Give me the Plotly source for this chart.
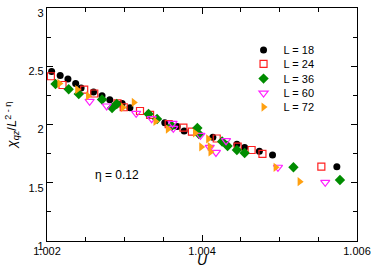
import plotly.graph_objects as go

# L = 18
u_18 = [1.00206, 1.00217, 1.00227, 1.00237, 1.00244, 1.00260, 1.00271, 1.00281, 1.00297, 1.00307,
        1.00352, 1.00368, 1.00377, 1.00414, 1.00445, 1.00455, 1.00474, 1.00491, 1.00574]
chi_18 = [2.455, 2.421, 2.391, 2.352, 2.313, 2.279, 2.247, 2.213, 2.180, 2.144,
          2.015, 1.983, 1.944, 1.890, 1.830, 1.803, 1.770, 1.738, 1.638]
# L = 24
u_24 = [1.00205, 1.00220, 1.00248, 1.00261, 1.00291, 1.00299, 1.00320, 1.00333, 1.00357, 1.00376,
        1.00387, 1.00419, 1.00446, 1.00464, 1.00478, 1.00554]
chi_24 = [2.414, 2.339, 2.300, 2.266, 2.182, 2.148, 2.116, 2.082, 2.004, 1.974,
          1.938, 1.880, 1.810, 1.781, 1.747, 1.638]
# L = 36
u_36 = [1.00211, 1.00228, 1.00241, 1.00271, 1.00284, 1.00290, 1.00331, 1.00342, 1.00361, 1.00394,
        1.00396, 1.00426, 1.00433, 1.00445, 1.00455, 1.00518, 1.00578]
chi_36 = [2.348, 2.302, 2.262, 2.215, 2.142, 2.176, 2.090, 2.047, 1.987, 1.970,
          1.918, 1.854, 1.815, 1.781, 1.755, 1.633, 1.524]
# L = 60
u_60 = [1.00255, 1.00277, 1.00315, 1.00335, 1.00362, 1.00363, 1.00398, 1.00410, 1.00418, 1.00431,
        1.00498, 1.00559]
chi_60 = [2.199, 2.159, 2.096, 2.050, 2.009, 1.967, 1.907, 1.803, 1.760, 1.861,
          1.633, 1.504]
# L = 72
u_72 = [1.00216, 1.00239, 1.00253, 1.00298, 1.00312, 1.00340, 1.00356, 1.00391, 1.00399, 1.00408,
        1.00410, 1.00411, 1.00495, 1.00526]
chi_72 = [2.352, 2.300, 2.245, 2.146, 2.189, 2.026, 1.961, 1.927, 1.807, 1.876,
          1.811, 1.764, 1.633, 1.509]

x_ticks = [1.002, 1.004, 1.006]
y_ticks = [1, 1.5, 2, 2.5, 3]

series = [
    ("L = 18", u_18, chi_18, dict(symbol="circle", size=7, color="black")),
    ("L = 24", u_24, chi_24, dict(symbol="square-open", size=7, color="#ff2020", line=dict(width=1.2))),
    ("L = 36", u_36, chi_36, dict(symbol="diamond", size=8, color="#008c00")),
    ("L = 60", u_60, chi_60, dict(symbol="triangle-down-open", size=8, color="#ff20ff", line=dict(width=1.2))),
    ("L = 72", u_72, chi_72, dict(symbol="triangle-right", size=8, color="#ffa010")),
]

FONT = "Liberation Sans, Arial, sans-serif"
fig = go.Figure()
legend_rows = [0.820, 0.760, 0.697, 0.635, 0.575]
for i, (name, xs, ys, mk) in enumerate(series):
    lg = "legend" if i == 0 else f"legend{i+1}"
    fig.add_trace(go.Scatter(x=xs, y=ys, mode="markers", name=name, marker=mk, legend=lg))

layout_legends = {}
for i, yy in enumerate(legend_rows):
    key = "legend" if i == 0 else f"legend{i+1}"
    layout_legends[key] = dict(x=0.634, y=yy, xanchor="left", yanchor="middle",
                               bgcolor="rgba(0,0,0,0)", borderwidth=0,
                               font=dict(family=FONT, size=11, color="black"))

axis_common = dict(showline=True, linecolor="black", linewidth=1.2, mirror="allticks",
                   ticks="inside", ticklen=6, tickwidth=1, tickcolor="black",
                   showgrid=False, zeroline=False, automargin=False,
                   tickfont=dict(family=FONT, size=11, color="black"))

fig.update_layout(
    width=374, height=268,
    margin=dict(l=47, r=17, t=8, b=27, autoexpand=False),
    paper_bgcolor="white", plot_bgcolor="white",
    showlegend=True,
    xaxis=dict(range=[1.002, 1.006], tickvals=x_ticks, tickformat=".3f",
               minor=dict(dtick=0.0005, ticks="inside", ticklen=4, tickcolor="black", showgrid=False),
               title=dict(text="<i>U</i>", standoff=2,
                          font=dict(family=FONT, size=14, color="black")),
               **axis_common),
    yaxis=dict(range=[1, 3], tickvals=y_ticks, ticklabelshift=5,
               minor=dict(dtick=0.25, ticks="inside", ticklen=4, tickcolor="black", showgrid=False),
               title=dict(text="<i>χ</i><sub><i>qz</i></sub>/<i>L</i><sup>2 - η</sup>", standoff=8,
                          font=dict(family=FONT, size=13, color="black")),
               **axis_common),
    annotations=[
        dict(text="η = 0.12", x=0.226, y=0.283, xref="paper", yref="paper", showarrow=False,
             xanchor="center", yanchor="middle",
             font=dict(family=FONT, size=12, color="black")),
    ],
    **layout_legends,
)

fig.write_html(
    "out.html",
    config={"displayModeBar": False},
    post_script="document.body.style.margin='0px';document.body.style.overflow='hidden';",
)
